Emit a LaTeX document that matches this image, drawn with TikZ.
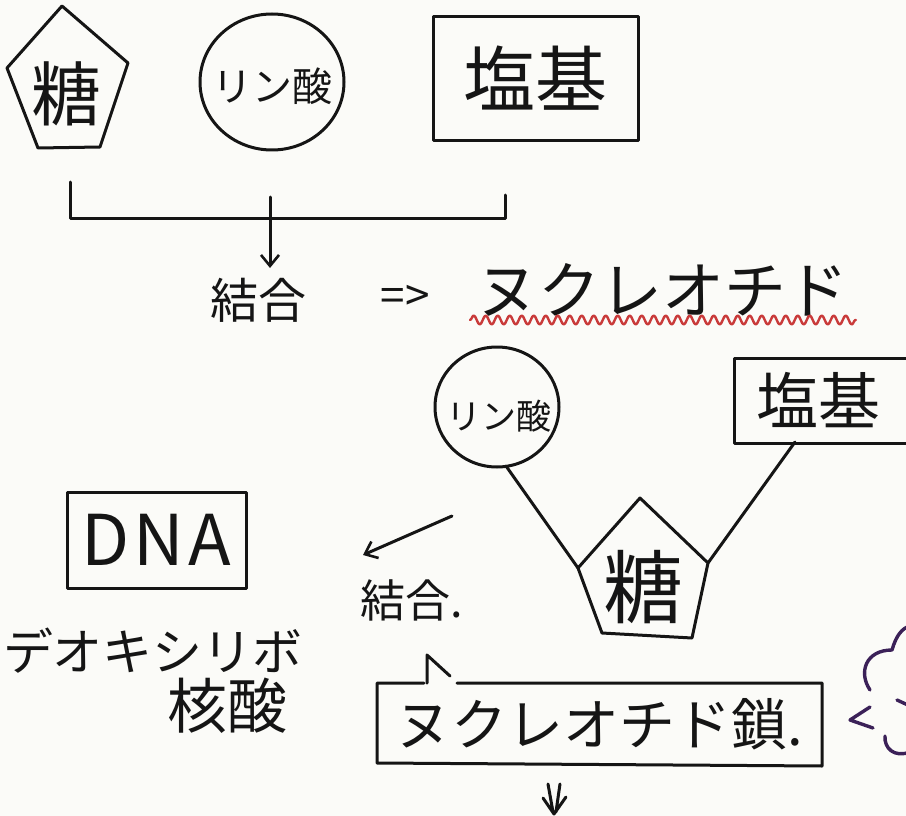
\documentclass[tikz,border=0pt]{standalone}
\usepackage{fontspec}
\newfontfamily\jp{Noto Sans CJK JP}
\usetikzlibrary{arrows.meta,decorations.pathmorphing}
\definecolor{ink}{HTML}{151515}
\definecolor{paper}{HTML}{FBFBF8}
\definecolor{wavy}{HTML}{C93A3A}
\definecolor{cloudc}{HTML}{3B2158}
\begin{document}
\begin{tikzpicture}[x=1pt,y=-1pt,line width=3pt,draw=ink,text=ink,line join=round,line cap=round,
  txt/.style={inner sep=0pt,font=\jp\fontsize{#1}{#1}\selectfont},
  tip/.style={-{Straight Barb[length=11pt,width=18pt,line width=2.6pt]}}]
\useasboundingbox (0,0) rectangle (906,816);
\fill[paper] (0,0) rectangle (906,816);

% --- top row ---
\coordinate (p1a) at (62,6);
\coordinate (p1b) at (128,63);
\coordinate (p1c) at (100,147);
\coordinate (p1d) at (38,148);
\coordinate (p1e) at (7,68);
\draw (p1a) -- (p1b) -- (p1c) -- (p1d) -- (p1e) -- cycle;
\node[txt=70] (sugar1) at (66,94) {糖};

\node[txt=40] (phos1) at (272,86) {リン酸};
\draw (272,82) ellipse [x radius=72pt,y radius=68pt];

\node[draw,minimum width=205pt,minimum height=123pt,txt=72] (base1) at (535.5,78.5) {塩基};

% bracket + arrow
\coordinate (brL) at (70,182);
\coordinate (brLb) at (70,218);
\coordinate (brRb) at (505,218);
\coordinate (brR) at (505,195);
\draw (brL) -- (brLb) -- (brRb) -- (brR);
\coordinate (ar1s) at (270,197);
\coordinate (ar1e) at (270,268);
\draw[tip] (ar1s) -- (ar1e);

\node[txt=48] (bond1) at (258,300) {結合};
\node[txt=44] (imp) at (405,298) {=>};
\node[txt=62] (nuc1) at (662,290) {ヌクレオチド};
\coordinate (wv1) at (470,320);
\coordinate (wv2) at (856,320);
\draw[wavy,line width=2.4pt,decorate,decoration={snake,amplitude=4.5pt,segment length=12pt}] (wv1) -- (wv2);

% --- nucleotide structure ---
\node[txt=35] (phos2) at (499,416) {リン酸};
\draw (497,407) ellipse [x radius=62pt,y radius=60pt];
\coordinate (phos2foot) at (506,466);
\node[draw,anchor=north west,minimum width=200pt,minimum height=85pt] (base2) at (733,357) {};
\node[txt=62] (base2t) at (818,400) {塩基};
\coordinate (p2a) at (640,498);
\coordinate (p2b) at (708,563);
\coordinate (p2c) at (692,638);
\coordinate (p2d) at (602,633);
\coordinate (p2e) at (578,568);
\draw (p2a) -- (p2b) -- (p2c) -- (p2d) -- (p2e) -- cycle;
\node[txt=80] (sugar2) at (643,587) {糖};
\coordinate (b2foot) at (795,442);
\draw (phos2foot) -- (p2e);
\draw (b2foot) -- (p2b);

% --- DNA ---
\node[draw,minimum width=179pt,minimum height=96pt,inner sep=0pt,font=\jp\fontsize{70}{70}\selectfont\addfontfeature{LetterSpace=6}] (dna) at (156.5,540) {DNA};
\node[txt=50] (deoxy) at (153,651) {デオキシリボ};
\node[txt=60] (nacid) at (227,706) {核酸};

\coordinate (ar2s) at (452,516);
\coordinate (ar2e) at (363,555);
\draw[tip] (ar2s) -- (ar2e);
\node[txt=45] (bond2) at (412,600) {結合.};

% --- nucleotide chain box with tail ---
\node[txt=56,minimum width=445pt,minimum height=80pt] (chain) at (599.5,724) {ヌクレオチド鎖.};
\coordinate (cTL) at (377,683);
\coordinate (cBL) at (377,763);
\coordinate (cBR) at (822,766);
\coordinate (cTR) at (822,683);
\coordinate (gapL) at (424,683);
\coordinate (gapR) at (457,683);
\coordinate (tailB) at (427,683);
\coordinate (tailT) at (427,655);
\coordinate (tailE) at (450,676);
\draw (gapL) -- (cTL) -- (cBL) -- (cBR) -- (cTR) -- (gapR);
\draw (tailB) -- (tailT) -- (tailE);

% down double arrow
\coordinate (da1) at (548,784);
\coordinate (da2) at (553,812);
\coordinate (da3) at (560,784);
\coordinate (da4) at (556,812);
\coordinate (dh1) at (543,798);
\coordinate (dh2) at (554,814);
\coordinate (dh3) at (566,797);
\draw (da1) -- (da2) (da3) -- (da4) (dh1) -- (dh2) -- (dh3);

% purple cloud at right edge
\coordinate (cl1) at (870,690);
\coordinate (cl2) at (892,650);
\coordinate (cl3) at (910,626);
\draw[cloudc,line width=3.4pt] (cl1) .. controls (858,672) and (866,650) .. (cl2)
      .. controls (896,636) and (902,628) .. (cl3);
\coordinate (cl4) at (885,736);
\coordinate (cl5) at (910,752);
\draw[cloudc,line width=3.4pt] (cl4) .. controls (884,748) and (894,758) .. (cl5);
\coordinate (cl6) at (897,700);
\coordinate (cl7) at (910,706);
\draw[cloudc,line width=3.4pt] (cl6) -- (cl7);
\coordinate (lt1) at (870,707);
\coordinate (lt2) at (850,720);
\coordinate (lt3) at (873,728);
\draw[cloudc,line width=3.4pt] (lt1) -- (lt2) -- (lt3);
\end{tikzpicture}
\end{document}
